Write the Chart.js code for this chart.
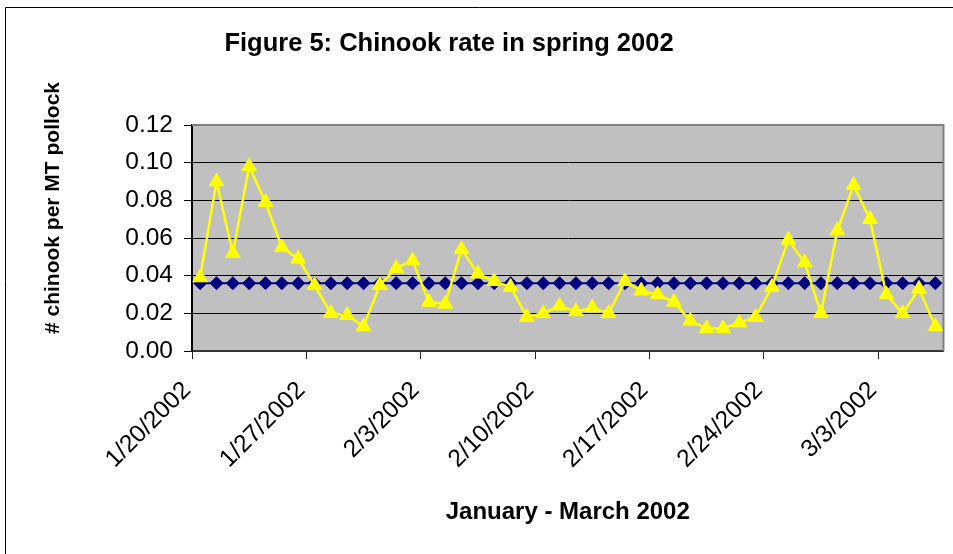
<!DOCTYPE html>
<html>
<head>
<meta charset="utf-8">
<title>Figure 5: Chinook rate in spring 2002</title>
<script src="https://cdn.jsdelivr.net/npm/chart.js@4.4.1/dist/chart.umd.min.js"></script>
<style>
  html, body { margin: 0; padding: 0; background: #fff; }
  canvas { display: block; }
</style>
</head>
<body>
<canvas id="myChart" width="953" height="554"></canvas>
<script>
// one value per day, 1/20/2002 - 3/6/2002
const dates = [
    '1/20/2002', '1/21/2002', '1/22/2002', '1/23/2002', '1/24/2002', '1/25/2002', '1/26/2002',
    '1/27/2002', '1/28/2002', '1/29/2002', '1/30/2002', '1/31/2002', '2/1/2002', '2/2/2002',
    '2/3/2002', '2/4/2002', '2/5/2002', '2/6/2002', '2/7/2002', '2/8/2002', '2/9/2002',
    '2/10/2002', '2/11/2002', '2/12/2002', '2/13/2002', '2/14/2002', '2/15/2002', '2/16/2002',
    '2/17/2002', '2/18/2002', '2/19/2002', '2/20/2002', '2/21/2002', '2/22/2002', '2/23/2002',
    '2/24/2002', '2/25/2002', '2/26/2002', '2/27/2002', '2/28/2002', '3/1/2002', '3/2/2002',
    '3/3/2002', '3/4/2002', '3/5/2002', '3/6/2002'
];

const chinookRate = [
    0.039, 0.090, 0.052, 0.098, 0.079, 0.055, 0.049,
    0.035, 0.020, 0.019, 0.013, 0.035, 0.044, 0.048,
    0.026, 0.025, 0.054, 0.041, 0.037, 0.034, 0.018,
    0.020, 0.024, 0.021, 0.023, 0.020, 0.037, 0.032,
    0.030, 0.026, 0.016, 0.012, 0.012, 0.015, 0.018,
    0.034, 0.059, 0.047, 0.020, 0.064, 0.088, 0.070,
    0.030, 0.020, 0.033, 0.013
];

const averageRate = [
    0.036, 0.036, 0.036, 0.036, 0.036, 0.036, 0.036,
    0.036, 0.036, 0.036, 0.036, 0.036, 0.036, 0.036,
    0.036, 0.036, 0.036, 0.036, 0.036, 0.036, 0.036,
    0.036, 0.036, 0.036, 0.036, 0.036, 0.036, 0.036,
    0.036, 0.036, 0.036, 0.036, 0.036, 0.036, 0.036,
    0.036, 0.036, 0.036, 0.036, 0.036, 0.036, 0.036,
    0.036, 0.036, 0.036, 0.036
];

const xTickLabels = ['1/20/2002', '1/27/2002', '2/3/2002', '2/10/2002', '2/17/2002', '2/24/2002', '3/3/2002'];
const yTicks = [0.00, 0.02, 0.04, 0.06, 0.08, 0.10, 0.12];

const chartTitle = 'Figure 5: Chinook rate in spring 2002';
const xTitle = 'January - March 2002';
const yTitle = '# chinook per MT pollock';

Chart.defaults.font.family = "'Liberation Sans', Arial, sans-serif";
Chart.defaults.color = '#000';

// day i sits in the middle of its slot, like an Excel date axis
const toPoints = (arr) => arr.map((v, i) => ({ x: i + 0.5, y: v }));

// gray plot area, frame, titles drawn around the chart
const excelLook = {
    id: 'excelLook',
    beforeDraw(chart) {
        const { ctx, chartArea: a } = chart;
        ctx.save();
        ctx.fillStyle = '#c0c0c0';
        ctx.fillRect(a.left, a.top, a.right - a.left, a.bottom - a.top);
        // outer chart border (runs off the right and bottom)
        ctx.strokeStyle = '#000';
        ctx.lineWidth = 1;
        ctx.beginPath();
        ctx.moveTo(5.5, chart.height);
        ctx.lineTo(5.5, 7.5);
        ctx.lineTo(chart.width, 7.5);
        ctx.stroke();
        ctx.restore();
    },
    beforeDatasetsDraw(chart) {
        const { ctx, chartArea: a } = chart;
        ctx.save();
        ctx.strokeStyle = '#808080';
        ctx.lineWidth = 2;
        ctx.beginPath();
        ctx.moveTo(a.left, a.top);
        ctx.lineTo(a.right, a.top);
        ctx.lineTo(a.right, a.bottom);
        ctx.stroke();
        ctx.restore();
    },
    afterDraw(chart) {
        const { ctx } = chart;
        ctx.save();
        ctx.fillStyle = '#000';
        ctx.font = "bold 25.5px 'Liberation Sans', Arial, sans-serif";
        ctx.textAlign = 'center';
        ctx.textBaseline = 'alphabetic';
        ctx.fillText(chartTitle, 449, 51);

        ctx.translate(53, 208);
        ctx.rotate(-Math.PI / 2);
        ctx.font = "bold 21px 'Liberation Sans', Arial, sans-serif";
        ctx.textBaseline = 'middle';
        ctx.fillText(yTitle, 0, 0);
        ctx.restore();
    }
};

const ctx = document.getElementById('myChart').getContext('2d');
const myChart = new Chart(ctx, {
    type: 'line',
    data: {
        datasets: [{
            label: 'Chinook rate',
            data: toPoints(chinookRate),
            borderColor: '#ffff00',
            backgroundColor: '#ffff00',
            borderWidth: 2.5,
            pointStyle: 'triangle',
            pointRadius: 8.5,
            pointBorderWidth: 1,
            pointBackgroundColor: '#ffff00',
            pointBorderColor: '#ffff00',
            tension: 0,
            clip: false,
            order: 0
        },
        {
            label: 'Average',
            data: toPoints(averageRate),
            borderColor: '#000080',
            backgroundColor: '#000080',
            borderWidth: 2,
            pointStyle: 'rectRot',
            pointRadius: 6.5,
            pointBorderWidth: 1,
            pointBackgroundColor: '#000080',
            pointBorderColor: '#000080',
            tension: 0,
            clip: false,
            order: 1
        }]
    },
    options: {
        responsive: false,
        animation: false,
        devicePixelRatio: 1,
        layout: { padding: { top: 125, right: 9, bottom: 0, left: 0 } },
        plugins: {
            legend: { display: false },
            tooltip: { enabled: false },
            title: { display: false }
        },
        scales: {
            x: {
                type: 'linear',
                min: 0,
                max: dates.length,
                afterBuildTicks: (scale) => {
                    scale.ticks = xTickLabels.map((_, i) => ({ value: i * 7 }));
                },
                afterFit: (scale) => { scale.height = 203; },
                ticks: {
                    minRotation: 45,
                    maxRotation: 45,
                    padding: 17,
                    labelOffset: -5,
                    font: { size: 24.5 },
                    callback: (value) => xTickLabels[Math.round(value / 7)]
                },
                grid: {
                    drawOnChartArea: false,
                    drawTicks: true,
                    tickLength: 8,
                    tickColor: '#222',
                    color: '#222'
                },
                border: { display: true, color: '#333', width: 2 },
                title: {
                    display: true,
                    text: xTitle,
                    font: { size: 24, weight: 'bold' },
                    padding: { top: 0, bottom: 27.6 }
                }
            },
            y: {
                min: 0,
                max: 0.12,
                afterBuildTicks: (scale) => {
                    scale.ticks = yTicks.map((v) => ({ value: v }));
                },
                afterFit: (scale) => { scale.width = 192; },
                ticks: {
                    padding: 11,
                    font: { size: 24.5 },
                    callback: (value) => value.toFixed(2)
                },
                grid: {
                    color: '#000',
                    lineWidth: 1,
                    tickLength: 8,
                    tickColor: '#000'
                },
                border: { display: true, color: '#000', width: 2 }
            }
        }
    },
    plugins: [excelLook]
});
</script>
</body>
</html>
